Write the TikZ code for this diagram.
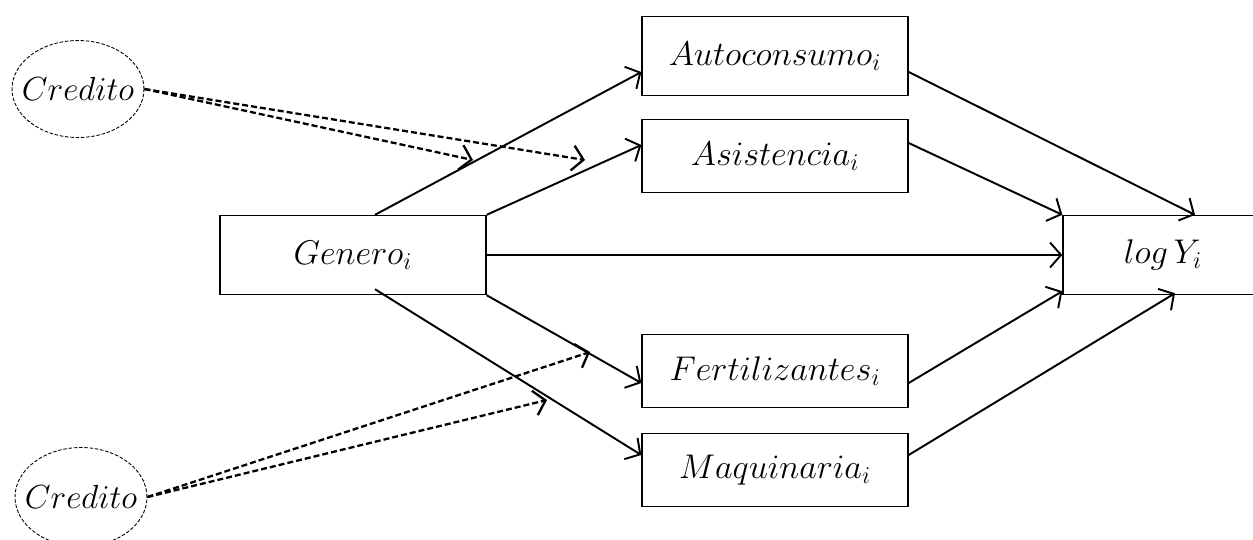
\RequirePackage{fix-cm}
\documentclass[tikz,border=0pt]{standalone}
\usetikzlibrary{arrows.meta,calc,shapes.geometric}

\tikzset{
  caja/.style={draw, line width=0.8pt, minimum width=5.32cm, minimum height=1.46cm,
    inner sep=0pt, font=\fontsize{19.5}{23}\selectfont},
  nube/.style={draw, ellipse, line width=0.5pt, dash pattern=on 2pt off 1pt,
    minimum width=2.64cm, minimum height=1.94cm, inner xsep=-0.22cm, inner ysep=0pt,
    font=\fontsize{19}{23}\selectfont},
  flecha/.style={line width=1.1pt, -{Straight Barb[length=0.22cm,width=0.5cm]}},
  flechad/.style={flecha, line width=1.3pt, dash pattern=on 0.12cm off 0.06cm},
}

\begin{document}
\begin{tikzpicture}[x=0.02cm, y=-0.02cm]
  \clip (0,0) rectangle (1253,539);
  % cajas
  \node[caja, minimum height=1.58cm] (genero) at (353,255) {$Genero_i$};
  \node[caja, minimum height=1.58cm] (auto) at (775,56) {$Autoconsumo_i$};
  \node[caja] (asis) at (775,156) {$Asistencia_i$};
  \node[caja] (fert) at (775,371) {$Fertilizantes_i$};
  \node[caja] (maq) at (775,470) {$Maquinaria_i$};
  \node[caja, minimum height=1.58cm, minimum width=4cm] (logy) at (1163,255) {$log\,Y_i$};
  \node[nube] (credA) at (78,89) {$Credito$};
  \node[nube, minimum height=1.98cm] (credB) at (81,497) {$Credito$};

  % puntas libres de las flechas de credito
  \coordinate (cA1) at (473,160);
  \coordinate (cA2) at (585,160);
  \coordinate (cB1) at (590,352);
  \coordinate (cB2) at (547,400);

  % genero
  \draw[flecha] ($(genero.north)+(22,0)$) -- ($(auto.west)+(0,16)$);
  \draw[flecha] (genero.north east) -- ($(asis.west)+(0,-11)$);
  \draw[flecha] (genero.east) -- (logy.west);
  \draw[flecha] (genero.south east) -- ($(fert.west)+(0,12)$);
  \draw[flecha] ($(genero.south)+(22,-6)$) -- ($(maq.west)+(0,-15)$);

  % mediadores
  \draw[flecha] ($(auto.east)+(0,16)$) -- ($(logy.north)+(32,0)$);
  \draw[flecha] ($(asis.east)+(0,-13)$) -- (logy.north west);
  \draw[flecha] ($(fert.east)+(0,12)$) -- ($(logy.south west)+(0,-4)$);
  \draw[flecha] ($(maq.east)+(0,-15)$) -- ($(logy.south)+(12,-2)$);

  % credito
  \draw[flechad] (credA.east) -- (cA1);
  \draw[flechad] (credA.east) -- (cA2);
  \draw[flechad] (credB.east) -- (cB1);
  \draw[flechad] (credB.east) -- (cB2);
\end{tikzpicture}
\end{document}
